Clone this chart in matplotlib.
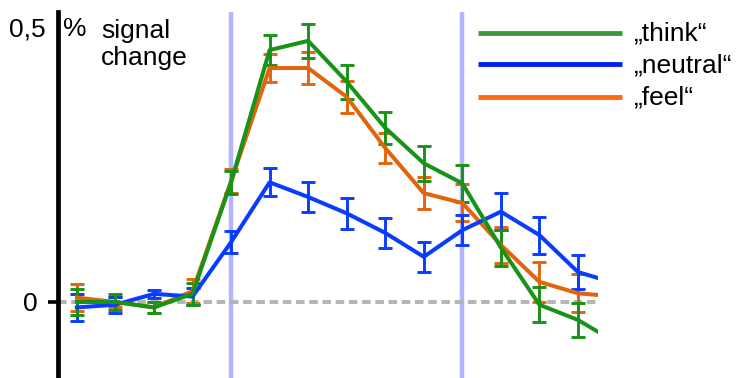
import numpy as np
import matplotlib
matplotlib.use("Agg")
import matplotlib.pyplot as plt
from matplotlib.lines import Line2D

plt.rcParams["font.family"] = ["Liberation Sans", "DejaVu Sans"]

# ── Time course data (% signal change per scan) ──────────────────────────────
scans = np.arange(15)
think = [0.0, 0.0, -0.01, 0.015, 0.22, 0.463, 0.48, 0.405, 0.32, 0.255,
         0.218, 0.10, -0.005, -0.033, -0.075]
think_err = [0.023, 0.015, 0.01, 0.02, 0.021, 0.028, 0.031, 0.031, 0.03,
             0.032, 0.034, 0.033, 0.032, 0.032, 0.03]
neutral = [-0.01, -0.005, 0.015, 0.01, 0.11, 0.22, 0.193, 0.163, 0.127,
           0.083, 0.132, 0.166, 0.123, 0.055, 0.034]
neutral_err = [0.025, 0.015, 0.007, 0.015, 0.02, 0.026, 0.028, 0.028, 0.028,
               0.028, 0.028, 0.034, 0.034, 0.031, 0.03]
feel = [0.008, 0.0, -0.01, 0.02, 0.222, 0.43, 0.43, 0.377, 0.283, 0.2,
        0.182, 0.105, 0.037, 0.016, 0.01]
feel_err = [0.025, 0.01, 0.01, 0.022, 0.022, 0.026, 0.03, 0.03, 0.028, 0.03,
            0.034, 0.033, 0.037, 0.035, 0.03]
block_marks = [4, 10]
labels = ["\u201ethink\u201c", "\u201eneutral\u201c", "\u201efeel\u201c"]

W, H = 737, 378
fig = plt.figure(figsize=(W / 100, H / 100), dpi=100)
# axes box in pixels: left 58, right 598, top 12, bottom 378
ax = fig.add_axes([58 / W, 0, (598 - 58) / W, (378 - 12) / H])
ax.set_xlim(-0.49, 13.52)
ax.set_ylim(-0.1397, 0.533)

# ── Reference lines ──────────────────────────────────────────────────────────
for xm in block_marks:
    ax.axvline(xm, color="#b4b4ff", lw=3.2, zorder=1)
ax.axhline(0, color="#b4b4b4", lw=2.8, dashes=(2.2, 1.2), zorder=1)

# ── Series with error bars ───────────────────────────────────────────────────
series = [
    (feel, feel_err, "#e2640c"),
    (neutral, neutral_err, "#0a3cff"),
    (think, think_err, "#179417"),
]
for vals, errs, col in series:
    ax.errorbar(scans, vals, yerr=errs, color=col, lw=2.9, elinewidth=2.1,
                capsize=5.0, capthick=2.1, zorder=3)

# ── Axis styling ─────────────────────────────────────────────────────────────
for side in ["top", "right", "bottom"]:
    ax.spines[side].set_visible(False)
ax.spines["left"].set_linewidth(3.4)
ax.set_xticks([])
ax.set_yticks([0])
ax.set_yticklabels(["0"], fontsize=19)
ax.tick_params(axis="y", length=7.5, width=2.6, pad=7)


def px(x, y):
    return x / W, 1 - y / H


fig.text(*px(46, 29), "0,5", fontsize=19, ha="right", va="center")
fig.text(*px(63, 29), "%", fontsize=19, ha="left", va="center")
fig.text(*px(101, 38), "signal", fontsize=19, ha="left", va="baseline")
fig.text(*px(101, 65), "change", fontsize=19, ha="left", va="baseline")

# ── Legend ───────────────────────────────────────────────────────────────────
leg_cols = ["#3a9a3a", "#0022ee", "#ff6a10"]
leg_y = [33, 64, 97]
for lab, col, yy in zip(labels, leg_cols, leg_y):
    x0, y0 = px(478, yy)
    x1, _ = px(622, yy)
    fig.add_artist(Line2D([x0, x1], [y0, y0], color=col, lw=3.5,
                          solid_capstyle="butt"))
    fig.text(*px(633, yy + 1), lab, fontsize=19, ha="left", va="center")

fig.savefig("out.png", dpi=100)
